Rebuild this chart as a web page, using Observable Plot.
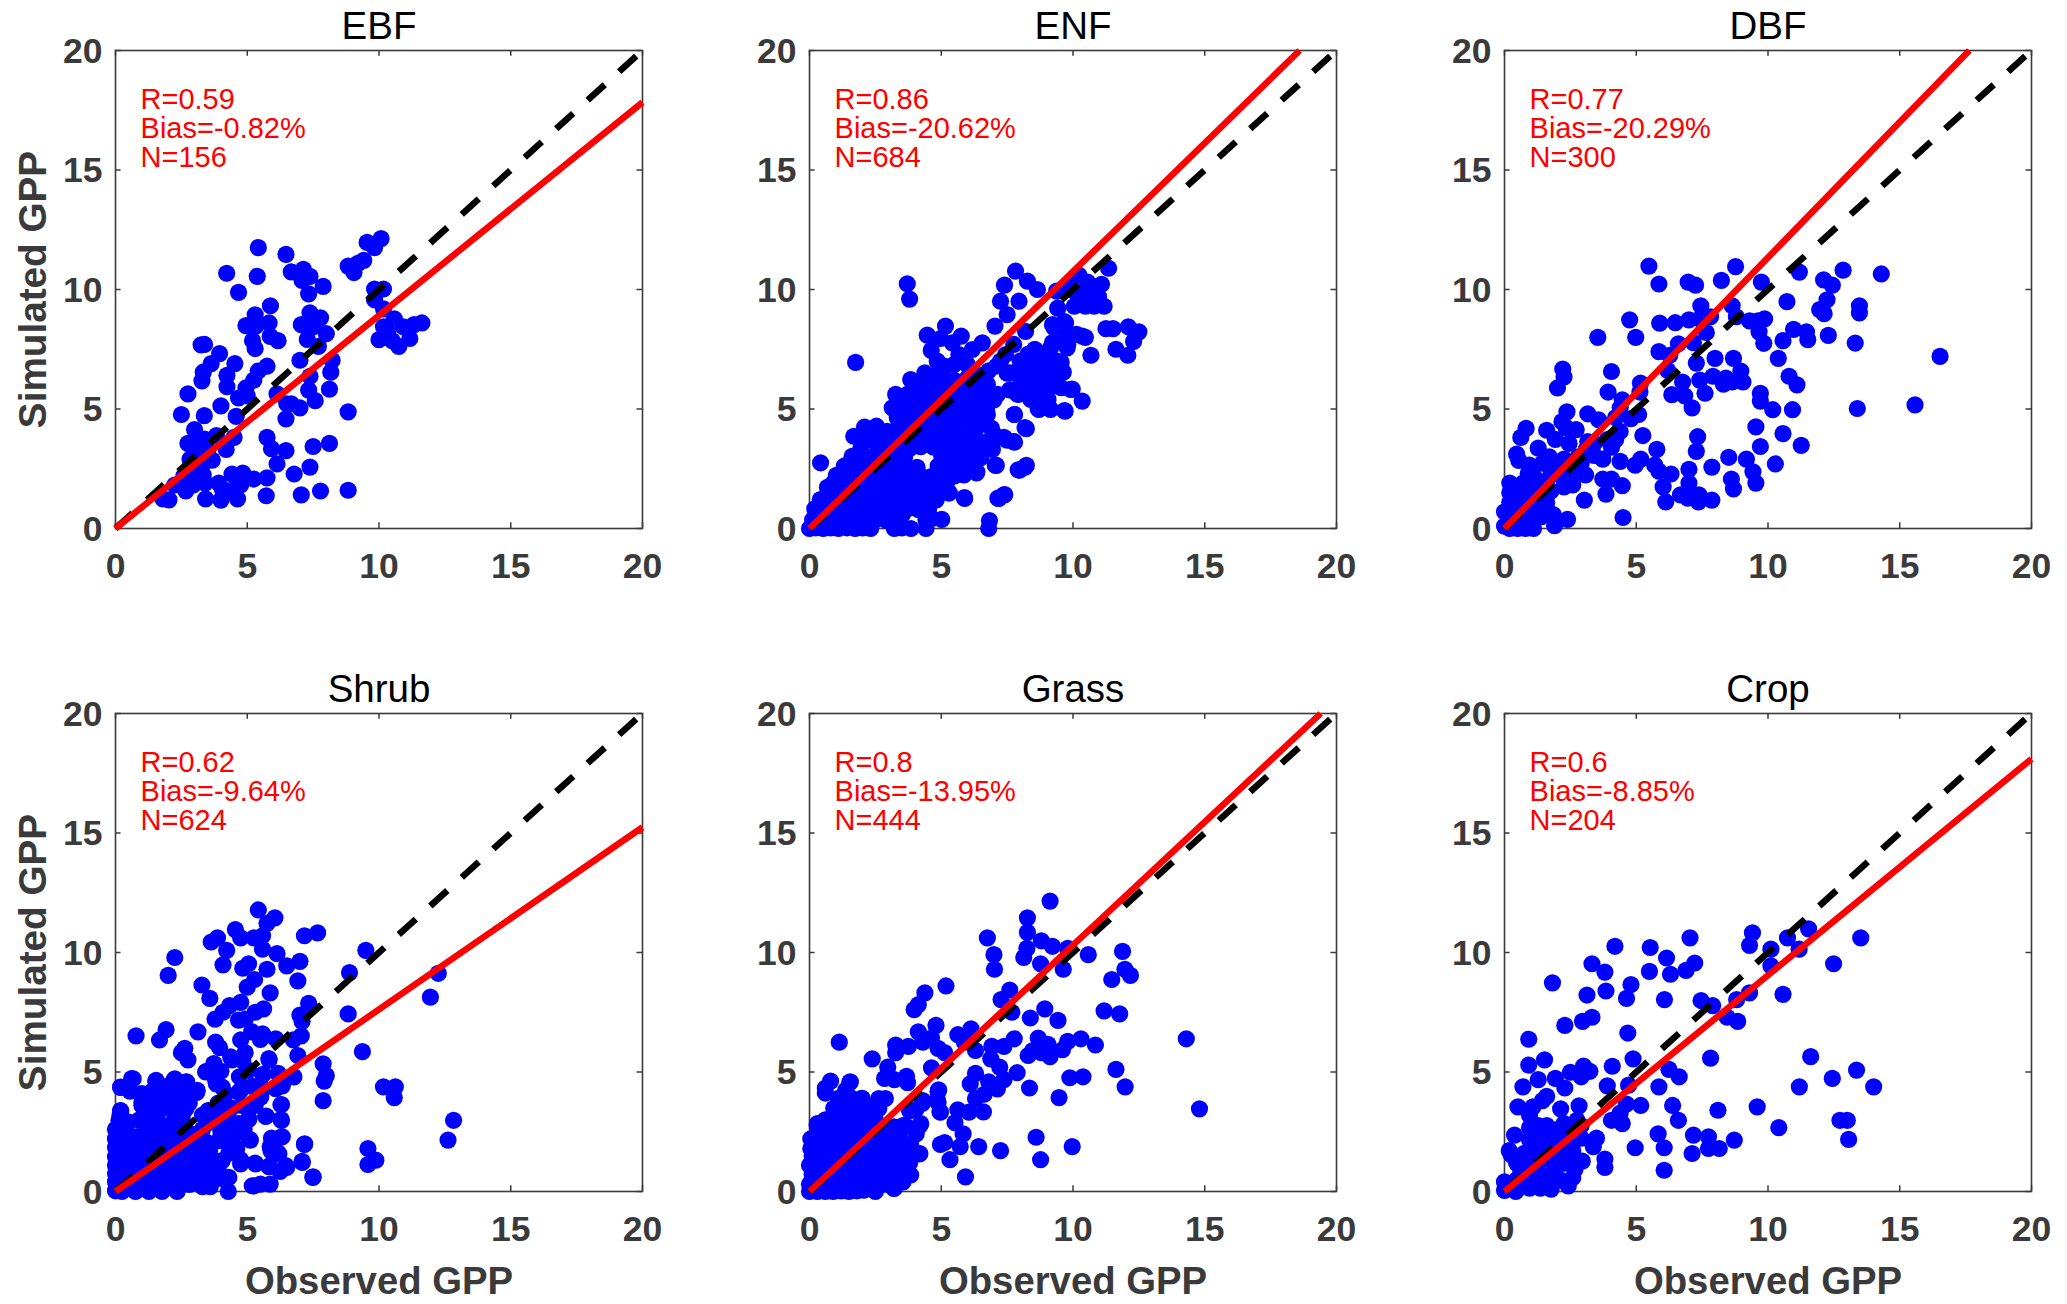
<!DOCTYPE html>
<html><head><meta charset="utf-8">
<script src="https://cdn.jsdelivr.net/npm/d3@7"></script>
<script src="https://cdn.jsdelivr.net/npm/@observablehq/plot@0.6"></script>
<style>html,body{margin:0;background:#fff}#page{position:relative;width:2067px;height:1304px;overflow:hidden}svg{position:absolute;overflow:visible;background:transparent}</style>
</head><body><div id="page"></div>
<script>
const titles = ["EBF","ENF","DBF","Shrub","Grass","Crop"];
const statR = ["R=0.59","R=0.86","R=0.77","R=0.62","R=0.8","R=0.6"];
const statBias = ["Bias=-0.82%","Bias=-20.62%","Bias=-20.29%","Bias=-9.64%","Bias=-13.95%","Bias=-8.85%"];
const statN = ["N=156","N=684","N=300","N=624","N=444","N=204"];
const fitEnds = [[20,17.83],[18.6,20],[17.64,20],[20,15.24],[19.4,20],[20,18.1]];
const tickValues = [0,5,10,15,20];
const xLabel = "Observed GPP";
const yLabel = "Simulated GPP";

const ebf = [[5.42,11.75],[6.47,11.47],[4.22,10.68],[5.38,10.55],[6.67,10.74],[7.13,10.84],[7.38,10.55],[7.08,10.38],[7.88,10.13],[7.33,9.82],[4.67,9.88],[5.88,9.32],[5.3,8.94],[7.38,9.02],[7.78,8.81],[4.95,8.49],[5.33,8.48],[5.83,8.6],[7.05,8.53],[7.5,8.44],[8,8.15],[5.87,8.04],[6.17,7.86],[5.2,7.86],[5.3,7.53],[7.28,7.91],[7.7,7.62],[3.38,7.7],[3.25,7.68],[3.95,7.32],[3.63,6.9],[3.33,6.54],[3.28,6.18],[4.53,6.9],[4.23,6.41],[4.23,5.93],[7,7.04],[8.22,7.04],[8.17,6.54],[5.75,6.79],[5.42,6.59],[5.25,6.21],[4.95,5.88],[7.38,6.37],[7.33,5.79],[8.12,5.83],[2.75,5.63],[4,5.13],[4.67,5.46],[5,5.55],[6.13,5.63],[6.5,5.22],[7,5.05],[6.67,5.22],[7.58,5.35],[2.5,4.77],[3.37,4.72],[4.58,4.69],[6.47,4.59],[8.83,4.88],[3,4.14],[3.83,3.89],[4.5,3.81],[5.75,3.81],[2.75,3.56],[3.08,3.5],[3.38,3.74],[4.2,3.31],[5.92,3.34],[6.47,3.26],[7.5,3.43],[8.12,3.56],[2.83,2.9],[3.67,2.86],[3.17,3.06],[3.33,2.72],[6.13,2.7],[7.38,2.57],[6.78,2.28],[3.33,2.24],[2.95,1.82],[2.25,1.82],[2.67,1.57],[3.92,1.9],[4.42,2.28],[4.83,2.32],[4.75,1.82],[5.25,2.07],[5.75,2.12],[4.17,1.57],[5.72,1.37],[3.42,1.24],[4,1.19],[4.63,1.24],[7.05,1.41],[7.78,1.57],[8.83,1.6],[1.8,1.24],[2.03,1.2],[8.83,10.98],[9.05,10.71],[9.42,11.22],[9.2,11.09],[9.55,11.97],[9.83,11.75],[10.08,12.13],[9.83,10.02],[10.17,10.02],[9.83,9.57],[10.17,9.19],[10.58,8.77],[10.17,8.44],[10,7.9],[10.5,7.86],[10.75,7.62],[11.17,7.95],[10.92,8.44],[11.33,8.53],[11.63,8.6],[10.33,8.2],[3.5,3.3],[2.9,2.5],[3.1,2.2],[2.6,2.2],[3.4,1.9],[4.4,1.6],[4.05,1.65]];

const enf = [[3.71,10.24],[3.8,9.6],[1.75,6.95],[0.42,2.75],[5.16,8.47],[4.47,8.09],[4.97,7.95],[5.76,8.05],[4.62,7.45],[4.85,7],[5.42,7.77],[5.67,7.28],[6.56,7.77],[6.18,7.49],[5.48,6.86],[5.99,6.86],[4.38,6.51],[3.84,6.23],[5.1,6.3],[4.72,6.37],[4.09,5.89],[3.27,5.61],[3.71,5.61],[3.14,5.05],[3.45,5.2],[3.33,4.63],[4.09,5.05],[4.55,5.2],[4.97,5.75],[5.61,5.61],[6.11,5.89],[6.75,6.03],[7.13,5.61],[6.5,5.3],[6.75,4.77],[5.99,4.63],[6.5,4.35],[5.48,5.05],[4.97,4.63],[4.47,4.49],[3.96,4.77],[3.58,4.21],[2.54,4.28],[2.09,4.24],[2.95,4.07],[1.68,3.86],[2.5,3.79],[2.63,3.38],[1.94,3.31],[2.2,3],[1.41,2.65],[3.33,3.65],[3.96,3.79],[4.6,3.93],[5.22,4.07],[5.73,3.93],[6.3,3.79],[7,3.93],[7.5,3.7],[7.78,3.61],[6.94,3.31],[6.5,2.96],[7.09,2.64],[5.86,2.96],[5.35,3.38],[4.97,3.79],[4.72,3.5],[6.34,2.33],[5.86,2.24],[5.35,2.52],[4.85,2.1],[5.29,1.49],[5.89,1.26],[7.19,1.26],[7.41,1.42],[7.97,2.44],[8.23,2.64],[8.23,4.18],[7.78,4.77],[7.92,5.61],[7.61,6.51],[8.27,6.3],[8,7],[7.44,7.28],[7.25,7],[7.04,8.47],[7.25,9.51],[7.5,8.95],[7.4,10.18],[7.82,10.77],[8.27,10.35],[8.65,10],[7.95,9.51],[8.2,8.25],[7.75,7.7],[8.77,7.28],[9.15,6.86],[8.5,6.58],[8.27,5.9],[9.72,8.6],[9.28,8.4],[9.65,7.84],[9.78,7.56],[10.35,8.05],[9.15,7.56],[9.4,7],[9.47,6.58],[8.9,6.3],[9.28,6.16],[8.5,5.9],[9.91,5.82],[9.55,5.89],[10.35,5.33],[9.7,4.91],[9.15,4.98],[8.71,4.98],[9.03,5.45],[8.5,5.75],[8,6],
[11.35,10.89],[10.22,10.6],[10.55,10.31],[11.08,10.22],[9.38,9.93],[9.8,10.18],[10.05,9.93],[10.38,9.85],[10.8,9.77],[10.97,9.69],[10.05,9.3],[10.47,9.3],[10.8,9.3],[11.18,9.3],[9.42,9.22],[9.22,8.53],[9.68,8.66],[9.72,8.2],[10.13,8.12],[10.47,8],[11.25,8.36],[11.52,8.36],[12.1,8.44],[12.5,8.23],[12.3,7.83],[11.63,7.5],[12.08,7.25],[10.68,7.25],[9.8,7.7],[9.22,7.78],[8.55,7.5],[9.05,7.36],[9.55,6.95],[9.63,6.54],[7.88,5.63],[8.05,6.13],[8.8,5.96],[9.97,5.83],[8.68,5],[9.13,5],[9.68,4.93],[9.05,5.38],[7.77,4.77],[8.18,4.22],[6.97,3.97],[7.38,3.81],[7.75,3.64],[6.27,3.89],[7.05,2.65],[8.18,2.57],[7.92,2.45],[7.38,1.41],[7.15,1.27],[5.88,1.29],[5.3,1.49],[6.35,2.37],[5.88,2.32],[6.83,0.33],[6.8,0],[5.02,0.38],[4.42,0],[4.65,0.42],[3.85,0],[3.22,0],[3.52,0.58],
[0,0],[0.24,0.03],[0.52,0],[0.81,0.02],[1.1,0],[1.42,0.03],[1.73,0],[2.02,0.02],[2.32,0],[3.5,0.02],[0.12,0.36],[0.48,0.33],[0.92,0.38],[1.31,0.32],[1.68,0.36],[2.12,0.33],[2.51,0.37],[2.93,0.33],[3.3,0.38],[4.42,0.36],[0.2,0.82],[0.61,0.78],[1.02,0.83],[1.38,0.79],[1.81,0.81],[2.19,0.78],[2.62,0.82],[3.03,0.8],[3.42,0.77],[3.72,0.83],[4.12,0.8],[4.52,0.82],[0.41,1.21],[0.83,1.18],[1.22,1.23],[1.61,1.19],[1.98,1.22],[2.41,1.18],[2.82,1.22],[3.18,1.19],[3.62,1.21],[4.03,1.18],[4.42,1.23],[4.81,1.2],[0.68,1.72],[1.12,1.68],[1.52,1.73],[1.93,1.69],[2.31,1.72],[2.72,1.68],[3.12,1.71],[3.52,1.69],[3.91,1.72],[4.32,1.68],[4.72,1.7],[1.02,2.22],[1.41,2.18],[1.83,2.21],[2.22,2.17],[2.61,2.22],[3.02,2.19],[3.43,2.21],[3.82,2.18],[4.22,2.2],[4.62,2.17],[5,2.22],[1.32,2.61],[1.71,2.58],[2.12,2.62],[2.52,2.57],[2.91,2.61],[3.31,2.6],[3.62,2.58],[4.08,2.56],[4.88,2.61],[5.31,2.6],[5.7,2.62],[6.2,2.6],[1.62,3.02],[2.32,2.98],[2.83,3.02],[3.22,2.97],[3.61,3],[5.02,3],[5.42,2.97],[5.92,3.02],[6.38,3],[2.62,3.42],[3.02,3.38],[3.42,3.41],[3.83,3.37],[4.22,3.42],[4.71,3.4],[5.22,3.38],[5.62,3.42],[6.12,3.4],[6.92,3.38],[2.92,3.92],[3.32,3.88],[3.71,3.91],[4.12,3.88],[4.52,3.92],[4.91,3.89],[5.31,3.92],[5.72,3.88],[3.42,4.42],[3.82,4.38],[4.22,4.41],[4.62,4.38],[5.02,4.42],[5.42,4.38],[5.82,4.41],[6.22,4.38],[6.62,4.42],[3.52,4.92],[3.92,4.88],[4.32,4.92],[4.72,4.88],[5.12,4.91],[5.52,4.88],[5.92,4.92],[6.32,4.88],[6.72,4.92],[3.42,5.42],[3.82,5.38],[4.22,5.41],[4.62,5.38],[5.82,5.42],[6.22,5.38],[6.62,5.42],[7,5.38],[4.12,5.92],[4.52,5.88],[5.32,5.92],[5.72,5.88],[6.12,5.92],[6.52,5.88],
[4.9,1.6],[5.2,1.9],[5.5,2.2],[5.3,2.9],[5.7,3.3],[6.1,3.2],[6.6,3.6],[6.9,4.2],[6.6,5],[6.9,5.4],[5.2,4.6],[5.7,4.3],[5.1,5.3],[5.5,6.2],[6,6.3],[6.5,6.4],[6.8,6.6],[7.1,6.8],[7.5,6.5],[7.9,6.6],[8.3,6.8],[8.7,7],[8.9,6.8],[8.3,7.3],[8.6,6.3],[9,5.7],[8.4,5.4],[7.6,5.8],[2.2,3.7],[2.7,3],[1.3,2.2],[0.9,1.9],[0.5,1.2],[3,3.3],[4.3,5.6],[4.4,6.2],[5.1,6.8]];

const dbf = [[5.48,10.98],[5.86,10.23],[6.97,10.31],[7.25,10.18],[8.23,10.38],[8.77,10.96],[9.75,10.31],[11.19,10.73],[12.11,10.4],[12.44,10.18],[12.85,10.81],[14.3,10.65],[10.72,9.49],[12.24,9.57],[11.96,9.16],[12.13,8.99],[13.47,9.32],[13.47,9.02],[7.45,9.32],[8.64,9.32],[8.8,8.86],[9.3,8.69],[9.87,8.77],[9.62,8.69],[4.75,8.73],[5.89,8.59],[6.48,8.61],[7,8.73],[7.41,8.77],[7.82,8.86],[7.66,8.2],[9.66,8.23],[9.84,7.75],[10.57,7.86],[10.97,8.33],[11.46,8.23],[11.51,7.9],[12.29,8.08],[13.31,7.76],[3.54,8],[4.98,8],[6.6,7.73],[7.17,7.78],[5.86,7.4],[6.27,7.25],[7.99,7.12],[8.69,7.12],[7.28,6.92],[10.39,7.12],[16.53,7.2],[2.21,6.67],[2.26,6.34],[2.01,5.88],[4.06,6.57],[6.19,6.62],[8.97,6.59],[9.05,6.13],[10.8,6.37],[11.1,6.01],[7.91,6.37],[7.41,6.21],[8.4,6.29],[8.31,6.04],[8.64,6.13],[6.76,6.13],[5.16,6.08],[5.14,5.71],[3.93,5.71],[6.35,5.6],[6.84,5.55],[7.61,5.66],[9.71,5.66],[9.71,5.33],[10.18,4.97],[10.93,4.97],[7.12,5.05],[13.39,5.02],[15.58,5.17],[4.47,5.38],[4.39,5.05],[2.37,4.88],[3.16,4.8],[3.57,4.55],[5.09,4.77],[4.8,4.6],[4.22,4.64],[0.82,4.19],[0.62,3.81],[1.6,4.11],[1.93,3.73],[2.34,4.22],[2.18,4.47],[2.72,4.14],[2.45,3.56],[4.39,4.06],[5.25,3.89],[9.54,4.25],[10.57,3.97],[7.33,3.84],[7.28,3.23],[3.16,3.64],[11.26,3.48],[9.71,3.43],[1.28,3.36],[5.78,3.31],[0.46,3.11],[0.54,2.85],[0.95,2.65],[8.51,2.98],[9.18,2.9],[10.28,2.7],[4.96,2.65],[5.17,2.9],[5.7,2.65],[4.39,2.81],[7.87,2.57],[7,2.48],[9.43,2.37],[6.32,2.28],[5.86,2.4],[8.61,2.07],[9.54,1.9],[8.69,1.66],[3.08,2.24],[7,1.9],[6.02,1.74],[4.47,1.79],[3.73,2.07],[4.06,2.07],[3.85,1.44],[6.68,1.41],[6.96,1.27],[7.38,1.41],[7.36,1.11],[7.87,1.19],[6.12,1.11],[3.03,1.19],[4.5,0.46],[2.39,0.38],[1.9,0.12],[1.85,0.58],
[3.4,3.06],[3.73,2.9],[4.06,3.4],[3.9,3.72],[4.22,3.72],[3.4,3.56],[2.91,2.73],[2.59,2.4],[2.26,1.74],[2.59,1.82],[1.93,2.73],[2.26,2.9],[1.77,2.4],[1.44,2.73],[2.1,2.24],[1.28,1.9],[1.77,1.57],[1.44,1.24],[1.11,0.91],[1.6,1.08],[3.1,3.3],[2.8,3],[2.4,2.8],[1.7,3],[1.1,2.2],[0.9,2.3],[0.2,0],[0.5,0],[0.8,0],[1.1,0],[0,0.1],[0.3,0.3],[0.7,0.3],[1.1,0.3],[0,0.7],[0.3,0.7],[0.7,0.7],[1.1,0.7],[1.4,0.5],[0.2,1.1],[0.6,1.1],[1,1.1],[1.4,1.2],[0.2,1.5],[0.6,1.5],[1,1.5],[1.4,1.6],[0.2,1.9],[0.7,1.9],[1.1,1.7],[1.6,2]];

const shrub = [[5.42,11.78],[6.05,11.45],[5.75,11.22],[4.55,10.96],[4.75,10.61],[5.25,10.61],[5.58,10.7],[3.63,10.44],[3.87,10.61],[7.17,10.7],[7.67,10.82],[4.22,10.09],[5.58,10.14],[6.13,9.95],[9.5,10.09],[2.25,9.79],[4.08,9.48],[7,9.63],[6.5,9.44],[5.05,9.53],[4.83,9.34],[5.75,9.3],[2,9.04],[8.88,9.16],[12.25,9.13],[5.28,8.87],[5,8.55],[3.28,8.64],[6.92,8.81],[5.87,8.31],[3.58,8.08],[11.95,8.13],[4.33,7.78],[4.75,7.91],[7.33,7.87],[5.62,7.64],[5.3,7.5],[4.08,7.5],[3.78,7.21],[4.67,7.17],[4.92,7.21],[7,7.38],[8.83,7.43],[7.08,7.12],[1.92,6.77],[0.78,6.51],[3.13,6.68],[1.67,6.34],[5.17,6.68],[5.58,6.6],[6.08,6.39],[7.05,6.51],[6.75,6.34],[5.5,6.36],[4.75,6.34],[3.8,6.25],[3.95,6.02],[2.63,5.99],[2.5,5.81],[2.75,5.51],[4.92,5.81],[9.37,5.85],[6.92,5.69],[5.83,5.5],[4.42,5.51],[4.83,5.46],[3.75,5.32],[7.88,5.34],[8,4.85],[7.92,4.62],[3.45,5.03],[4,5.03],[6.17,4.94],[6.75,4.82],[0.67,4.71],[1.53,4.59],[2.25,4.71],[2.7,4.59],[0.2,4.36],[2,4.42],[2.5,4.33],[3.08,4.15],[3.83,4.5],[4.75,4.24],[6.33,4.42],[6.08,4.3],[10.17,4.38],[10.62,4.38],[10.58,3.93],[5.5,3.98],[7.88,3.8],[1,3.72],[1.5,3.9],[2.08,3.46],[2.67,3.46],[6.28,3.63],[0.2,3.37],[0.17,3.19],[5.72,3.16],[3.5,3.37],[6.28,3.02],[12.83,2.98],[5.05,3.02],[4.67,2.84],[4.88,2.58],[4,3.12],[6.33,2.29],[5.12,2.15],[5.92,2.23],[7.17,1.97],[5.87,1.88],[12.62,2.15],[9.58,1.8],[6.17,1.62],[9.88,1.31],[9.58,1.13],[7.08,1.26],[6.5,1.01],[6.25,0.84],[5.83,1.06],[5.3,1.19],[4.75,1.33],[7.5,0.61],[5.25,0.23],[5.5,0.31],[5.87,0.31],[4.28,0],
[0.19,4.37],[0.61,4.72],[1.54,4.65],[2.22,4.65],[2.66,4.58],[3.1,4.23],[1.14,3.81],[1.71,3.95],[2.6,3.53],[2.03,3.53],[0.19,3.39],[0.13,2.97],[3.54,3.39],[3.9,3.7],[4.18,4.09],[4.68,4.16],[5.51,3.95],[6.14,4.37],[6.77,4.79],[5.06,5.07],[3.42,5],[3.73,5.35],[3.8,4.65],[4.05,4.37],[4.37,5.63],[5.82,5.56],[6.27,4.79],[6.3,3.64],[5.7,3.14],[6.3,2.97],[5.06,3.04],[4.68,2.83],[5.06,2.2],[5.95,2.13],[6.27,2.27],[5.9,1.7],[6.2,1.57],[7.18,1.99],[7.09,1.22],[7.49,0.59],[6.46,1.08],[5.82,1.04],[5.32,1.15],[4.75,1.15],[5.19,0.24],[3.92,2.13],[4.43,2.06],[3.57,1.71],[4.05,1.29],[4.3,0.59],[3.57,1],[3.2,0.6],[2.8,0.3],[2.34,0],[1.77,0],[1.27,0],[0.76,0],[0.25,0],[0,0.03],[0.38,2.55],[1.14,2.83],[1.52,2.55],[1.9,2.69],[1.27,3.25],[2.53,3.1],[0,0.4],[0,0.75],[0,1.1],[0,1.45],[0,1.85],[0,2.2],[0,2.6],[0.42,2.2],[0.82,2.3],[1.22,2.2],[1.62,2.25],[2.02,2.2],[2.52,2.3],[0.38,1.85],[0.78,1.92],[1.18,1.88],[1.58,1.9],[1.98,1.86],[2.38,1.92],[2.78,1.86],[3.1,1.9],[0.42,1.5],[0.82,1.45],[1.22,1.5],[1.62,1.46],[2.02,1.52],[2.42,1.45],[2.82,1.5],[3.22,1.46],[3.62,1.4],[0.38,1.1],[0.78,1.08],[1.18,1.12],[1.58,1.06],[1.98,1.1],[2.38,1.05],[2.78,1.12],[3.18,1.08],[0.42,0.72],[0.82,0.7],[1.22,0.75],[1.62,0.68],[2.02,0.72],[2.42,0.7],[2.82,0.75],[3.6,0.45],[4,0.55],[0.38,0.35],[0.78,0.32],[1.18,0.36],[1.58,0.3],[1.98,0.35],[2.38,0.3],
[0.55,4.2],[1,4.1],[1.4,4.2],[1.8,4.15],[2.2,4.2],[2.7,4.1],[1,3.6],[1.4,3.6],[1.8,3.6],[2.3,3.7],[2.8,3.7],[3.3,3.2],[3.6,2.9],[3.9,2.9],[0.5,2.9],[0.9,3],[1.6,3],[2.3,2.7],[2.9,2.4],[3.3,2.6],[3.4,2.1],[2.2,2.9],[3.3,0.2],[3.9,1],[4.3,1.6],[4.6,1.8],[3.6,0.2],[4.5,2.4],[4,2.5],[4.3,3],[5.3,3.6],[4.8,3.6],[4.4,3.5],[5.6,4.3],[5.2,4.4],[5.6,4.9],[4.7,4.8]];

const grass = [[9.13,12.15],[8.27,11.45],[8.27,10.84],[6.75,10.61],[8.8,10.49],[9.22,10.26],[8.25,10.17],[8.13,9.79],[7,9.91],[9.8,10.17],[10.58,9.91],[11.88,10.05],[8.77,9.53],[7.02,9.3],[9.63,9.3],[11.97,9.3],[12.18,9.04],[11.47,8.87],[5.18,8.6],[4.38,8.31],[7.6,8.43],[7.27,8.03],[4.13,7.82],[3.97,7.61],[8.93,7.64],[7.68,7.5],[11.18,7.56],[11.77,7.43],[8.38,7.26],[9.43,7.16],[4.8,6.95],[4.13,6.68],[6.13,6.81],[5.63,6.56],[4.3,6.25],[4.63,6.42],[1.13,6.25],[3.27,6.13],[3.75,6.07],[3.27,5.81],[4.88,5.99],[5.13,5.81],[5.88,6.25],[6.3,5.9],[6.92,6.07],[7.38,6.07],[7.77,6.39],[8.68,6.42],[8.47,5.9],[8.3,5.69],[9.05,6.16],[9.13,5.64],[9.6,5.93],[9.8,6.28],[10.3,6.39],[10.85,6.13],[8.8,5.81],[14.3,6.39],[2.38,5.55],[2.97,5.2],[4.63,5.17],[6.88,5.55],[7.22,5.2],[6.3,4.94],[7.88,4.97],[11.63,5.11],[9.88,4.76],[10.38,4.8],[2.85,4.73],[3.22,4.68],[3.68,4.82],[3.72,4.55],[6.8,4.59],[7.38,4.68],[7.13,4.29],[6.1,4.5],[8.35,4.33],[11.98,4.38],[0.8,4.62],[0.6,4.33],[0.6,4.12],[1.55,4.59],[1.38,4.24],[4.88,4.19],[6.3,3.89],[6.63,4.07],[9.47,3.93],[1.97,3.89],[2.63,3.89],[2.88,3.89],[4.3,3.8],[4.88,3.72],[0.97,3.46],[1.47,3.55],[1.88,3.46],[2.55,3.55],[3.8,3.37],[4.97,3.32],[5.63,3.42],[6.05,3.32],[6.6,3.33],[14.8,3.46],[5.52,2.88],[4.22,2.84],[0.3,2.84],[0.8,2.58],[3.55,2.76],[5.83,2.41],[4.05,2.41],[8.6,2.27],[4.97,1.97],[5.13,2.05],[5.72,1.88],[6.42,1.88],[3.8,1.97],[9.97,1.88],[7.25,1.71],[4.17,1.57],[5.33,1.33],[8.77,1.33],[5.92,0.61],[3.8,0.7],[3.22,0.14],[2.5,0.09],
[0.29,2.78],[1.53,4.57],[1.37,4.18],[2,3.9],[2.63,3.48],[0.92,3.48],[1.56,3.55],[1.3,3.13],[1.94,3.2],[1.8,2.73],[2.5,2.99],[3.2,2.71],[3.7,2.71],[4.2,2.78],[4.28,3.69],[4.03,3.41],[4.9,4.25],[4.85,3.83],[4.95,3.34],[3.84,1.94],[4.19,1.59],[3.2,2.15],[3.84,0.69],[3.52,1.17],[3.2,0.13],[2.5,0],[2.06,0.06],[0,0],[0.3,0],[0.6,0],[0.9,0],[1.2,0.02],[1.5,0],[1.8,0.03],[0,0.3],[0.35,0.32],[0.7,0.28],[1.05,0.33],[1.42,0.3],[1.78,0.28],[2.12,0.33],[2.48,0.3],[2.85,0.31],[0.1,0.7],[0.5,0.72],[0.88,0.68],[1.28,0.72],[1.68,0.69],[2.08,0.72],[2.48,0.68],[2.88,0.71],[3.28,0.7],[0,1.1],[0.42,1.12],[0.82,1.08],[1.22,1.12],[1.62,1.09],[2.02,1.12],[2.42,1.08],[2.82,1.11],[3.2,1.09],[0.1,1.5],[0.5,1.52],[0.9,1.48],[1.3,1.52],[1.7,1.49],[2.1,1.52],[2.5,1.48],[2.9,1.51],[3.3,1.49],[0.2,1.9],[0.6,1.92],[1,1.88],[1.4,1.92],[1.8,1.89],[2.2,1.92],[2.6,1.88],[3,1.91],[3.4,1.88],[0.4,2.3],[0.8,2.32],[1.2,2.28],[1.6,2.32],[2,2.29],[2.4,2.32],[2.8,2.28],[3.4,2.32],[1.2,2.72],[2.4,2.7],[2.9,2.72],[3.48,2.7],
[0.6,3],[1,3],[1.5,2.9],[2,2.8],[2.4,3.1],[1.1,3.9],[1.6,3.9],[2.2,3.6],[0.3,2.4],[0.05,1.8],[0.05,2.2],[3.6,1.5],[3.8,1.2],[3.55,0.4]];

const crop = [[4.19,10.26],[5.53,10.21],[7.04,10.61],[9.41,10.82],[9.3,10.3],[10.74,10.61],[11.54,10.99],[13.52,10.61],[10.11,10.14],[11.18,10.14],[6.15,9.77],[3.32,9.53],[7.22,9.56],[12.49,9.53],[10.11,9.44],[3.81,9.18],[5.5,9.21],[6.89,9.25],[6.3,9.09],[1.82,8.73],[4.8,8.66],[3.85,8.39],[3.13,8.22],[9.3,8.31],[10.57,8.25],[4.63,8.08],[6.07,8.03],[8.81,8.03],[7.46,7.99],[7.9,7.78],[8.45,7.29],[8.85,7.12],[3.32,7.29],[2.96,7.12],[2.29,6.95],[4.68,6.63],[0.92,6.37],[1.52,5.51],[0.92,5.29],[4.88,5.55],[7.82,5.58],[11.62,5.64],[4.09,5.24],[13.36,5.08],[3,5.25],[3.24,5.03],[2.5,4.99],[2.91,4.8],[6.24,5.11],[6.63,4.8],[12.44,4.73],[1.28,4.68],[1.93,4.73],[0.7,4.38],[2.29,4.33],[3.9,4.42],[4.71,4.45],[5.86,4.38],[11.19,4.38],[14.01,4.38],[1.6,3.98],[1.44,3.8],[0.51,3.54],[1.08,3.54],[2.83,3.58],[4.63,3.66],[5.17,3.6],[6.38,3.6],[4.39,3.28],[2.13,3.46],[9.59,3.54],[8.1,3.4],[0.95,3.19],[2.75,2.98],[4.06,2.98],[4.47,2.84],[6.6,2.98],[12.73,2.98],[13.01,2.98],[1.6,2.76],[2.26,2.84],[1.28,2.76],[0.95,2.67],[10.41,2.67],[0.38,2.36],[5.83,2.41],[7.17,2.36],[7.74,2.29],[3.49,2.23],[13.06,2.18],[8.72,2.15],[0.95,2.15],[1.44,2.23],[2.91,2.23],[3.37,1.88],[4.96,1.83],[6.06,1.83],[7.74,1.8],[8.15,1.8],[0.18,1.71],[0.25,1.54],[7.12,1.59],[3.81,1.36],[3.81,1.01],[2.95,1.27],[6.06,0.89],[2.67,0.92],[2.59,0.58],[2.42,0.23],[1.77,0.1],[0,0.4],[0,0.05],[0.43,0],[0.95,0.14],[1.36,0.14],[0.62,0.84],[1.11,1.01],[1.6,1.36],[2.09,1.54],[2.59,1.71],[2.75,2.23],[2.42,2.41],[1.93,2.06],[1.44,1.71],[0.95,1.36],[0.46,0.49],[1.11,0.49],[1.77,0.67],[2.26,1.19],[1.44,2.58],[1.93,2.58],[2.59,2.76],[0.46,1.19],[1.28,1.88],[2.26,1.88],[2.91,2.76],[0.7,0.3],[1.5,0.4],[2.1,0.5],[1.9,0.9],[1.3,0.8],[0.75,1.6],[2.55,1.25]];

const panelData = [ebf, enf, dbf, shrub, grass, crop];

const blue = "#0000ff";
const ink = "#3a3a3a";
const font = "'Liberation Sans', Arial, sans-serif";
const panelW = 527, panelH = 478;
const mL = 115, mR = 36, mT = 50, mB = 113;
const lefts = [115, 809, 1503.5];
const tops = [50, 713];
const page = document.getElementById("page");

titles.forEach((title, i) => {
  const col = i % 3, row = Math.floor(i / 3);
  const pts = panelData[i];
  const marks = [
    Plot.frame({stroke: ink, strokeWidth: 1.6}),
    Plot.ruleX(tickValues, {y1: 0, y2: 0.24, stroke: ink, strokeWidth: 1.5}),
    Plot.ruleX(tickValues, {y1: 19.76, y2: 20, stroke: ink, strokeWidth: 1.5}),
    Plot.ruleY(tickValues, {x1: 0, x2: 0.21, stroke: ink, strokeWidth: 1.5}),
    Plot.ruleY(tickValues, {x1: 19.79, x2: 20, stroke: ink, strokeWidth: 1.5}),
    Plot.axisX({ticks: tickValues, tickSize: 0, tickPadding: 24, fontSize: 35.5, fontWeight: "bold", fill: ink, label: null, tickFormat: d => String(d)}),
    Plot.axisY({ticks: tickValues, tickSize: 0, tickPadding: 13, dy: 1, fontSize: 35.5, fontWeight: "bold", fill: ink, label: null, tickFormat: d => String(d)}),
    Plot.dot(pts, {x: d => d[0], y: d => d[1], r: 8.6, fill: blue, stroke: "none"}),
    Plot.link([[0, 0, 20, 20]], {x1: d => d[0], y1: d => d[1], x2: d => d[2], y2: d => d[3], stroke: "#000", strokeWidth: 6.5, strokeDasharray: "23,19.5", strokeLinecap: "butt"}),
    Plot.link([fitEnds[i]], {x1: () => 0, y1: () => 0, x2: d => d[0], y2: d => d[1], stroke: "#ff0000", strokeWidth: 6.5, strokeLinecap: "butt"}),
    Plot.text([statR[i]], {x: 0.95, y: 17.92, text: d => d, textAnchor: "start", lineAnchor: "middle", fill: "#ff0000", fontSize: 29}),
    Plot.text([statBias[i]], {x: 0.95, y: 16.71, text: d => d, textAnchor: "start", lineAnchor: "middle", fill: "#ff0000", fontSize: 29}),
    Plot.text([statN[i]], {x: 0.95, y: 15.51, text: d => d, textAnchor: "start", lineAnchor: "middle", fill: "#ff0000", fontSize: 29}),
    Plot.text([title], {frameAnchor: "top", text: d => d, dy: -24, lineAnchor: "middle", fill: "#000", fontSize: 38.5})
  ];
  if (col === 0) marks.push(Plot.text([yLabel], {frameAnchor: "left", text: d => d, dx: -82, rotate: -90, textAnchor: "middle", lineAnchor: "middle", fill: ink, fontSize: 38.7, fontWeight: "bold"}));
  if (row === 1) marks.push(Plot.text([xLabel], {frameAnchor: "bottom", text: d => d, dy: 90, lineAnchor: "middle", fill: ink, fontSize: 38.3, fontWeight: "bold"}));
  const svg = Plot.plot({
    width: mL + panelW + mR, height: mT + panelH + mB,
    marginLeft: mL, marginRight: mR, marginTop: mT, marginBottom: mB,
    style: {fontFamily: font, background: "transparent", overflow: "visible"},
    x: {domain: [0, 20]}, y: {domain: [0, 20]},
    marks
  });
  svg.style.position = "absolute";
  svg.style.left = (lefts[col] - mL) + "px";
  svg.style.top = (tops[row] - mT) + "px";
  page.appendChild(svg);
});
</script>
</body></html>
